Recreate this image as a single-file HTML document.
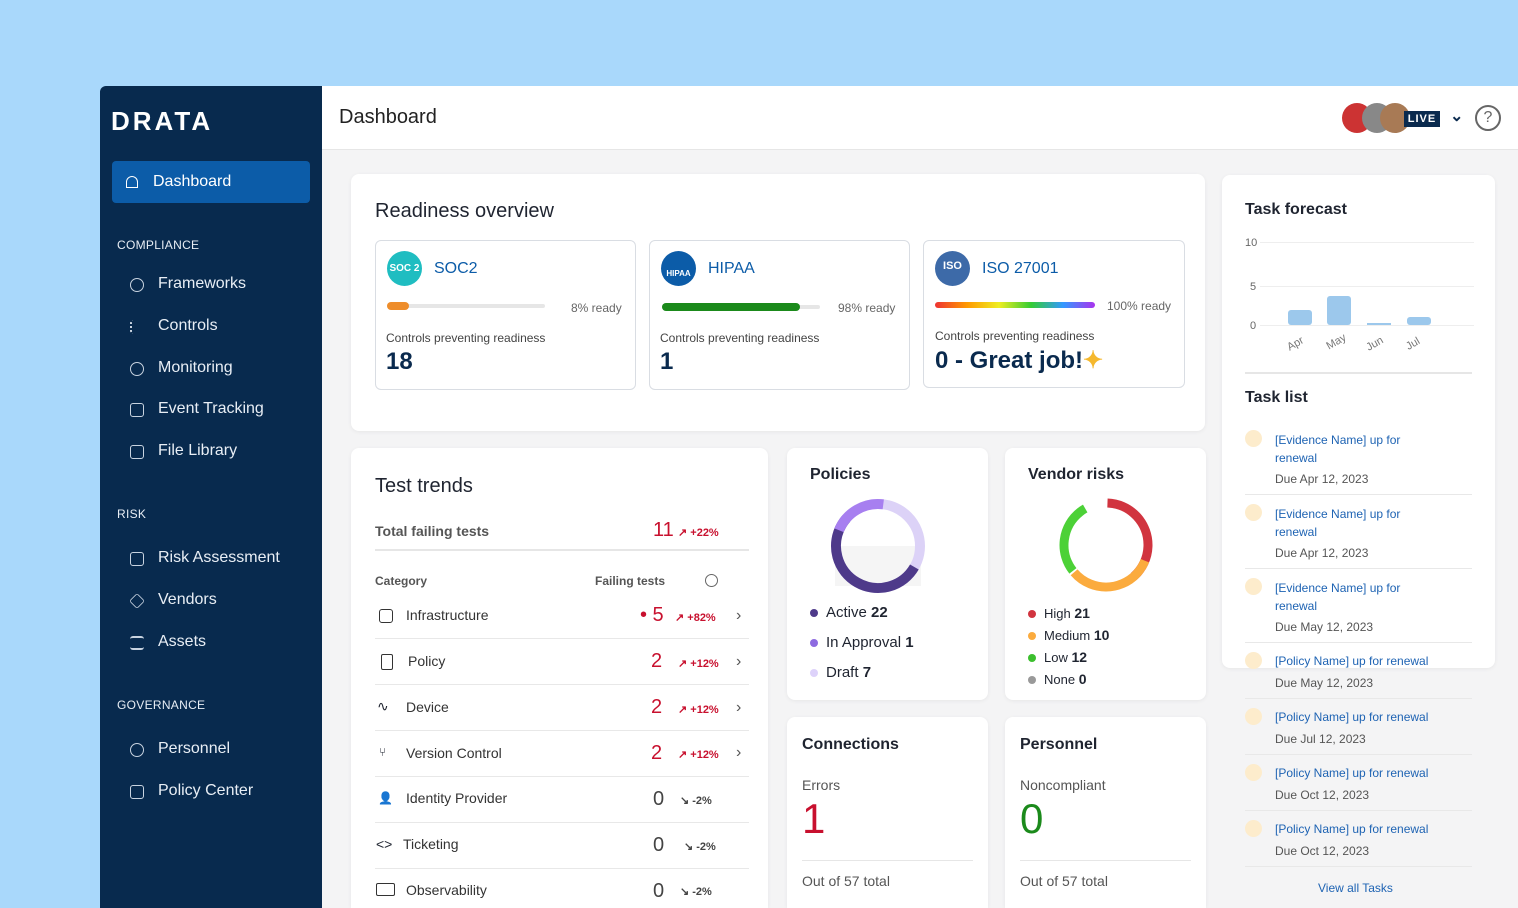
<!DOCTYPE html>
<html><head><meta charset="utf-8"><style>
*{box-sizing:border-box;margin:0;padding:0}
html,body{width:1518px;height:908px;overflow:hidden}
body{background:#a9d8fb;font-family:"Liberation Sans",sans-serif;position:relative;color:#1f2430}
.a{position:absolute}
.side{left:100px;top:86px;width:222px;height:822px;background:#082a4e;border-top-left-radius:6px}
.main{left:322px;top:86px;width:1196px;height:822px;background:#f4f4f5}
.hdr{left:322px;top:86px;width:1196px;height:64px;background:#fff;border-bottom:1px solid #e6e6e6}
.card{position:absolute;background:#fff;border-radius:8px;box-shadow:0 1px 4px rgba(0,0,0,.06)}
.nav{position:absolute;left:158px;color:#e8eef5;font-size:16px}
.ico{position:absolute;left:130px;width:14px;height:14px;border:1.5px solid #c8d3e0;border-radius:3px}
.sec{position:absolute;left:117px;color:#e8eef5;font-size:12px;letter-spacing:.3px}
.h{font-size:20px;color:#1f2430}
.sub{position:absolute;border:1px solid #d9dde3;border-radius:6px;background:#fff}
.row{position:absolute;left:375px;width:374px;height:46px;border-bottom:1px solid #e8e8e8;font-size:14px;color:#333}
.red{color:#c8102e}
.t{position:absolute;font-size:12px;color:#1e63b3}
.d{position:absolute;font-size:12px;color:#555}
</style></head><body>
<div class="a side"></div>
<div class="a main"></div>
<div class="a hdr"></div>
<div class="a" style="left:111px;top:106px;color:#fff;font-size:26px;letter-spacing:3px;font-weight:bold">DRATA</div>
<div class="a" style="left:112px;top:161px;width:198px;height:42px;background:#0c5ca8;border-radius:4px"></div>
<div class="a" style="left:126px;top:176px;width:12px;height:12px;border:1.5px solid #fff;border-top-left-radius:6px;border-top-right-radius:6px"></div>
<div class="nav" style="left:153px;top:173px;color:#fff;font-size:16px">Dashboard</div>
<div class="sec" style="top:238px">COMPLIANCE</div>
<div class="ico" style="top:278px;border-radius:50%"></div><div class="nav" style="top:275px">Frameworks</div>
<div class="ico" style="top:320px;border:none;border-left:2px dotted #c8d3e0"></div><div class="nav" style="top:317px">Controls</div>
<div class="ico" style="top:362px;border-radius:50%"></div><div class="nav" style="top:359px">Monitoring</div>
<div class="ico" style="top:403px"></div><div class="nav" style="top:400px">Event Tracking</div>
<div class="ico" style="top:445px"></div><div class="nav" style="top:442px">File Library</div>
<div class="sec" style="top:507px">RISK</div>
<div class="ico" style="top:552px"></div><div class="nav" style="top:549px">Risk Assessment</div>
<div class="ico" style="top:594px;transform:rotate(45deg) scale(.8)"></div><div class="nav" style="top:591px">Vendors</div>
<div class="ico" style="top:636px;border:none;border-top:2px solid #c8d3e0;border-bottom:2px solid #c8d3e0"></div><div class="nav" style="top:633px">Assets</div>
<div class="sec" style="top:698px">GOVERNANCE</div>
<div class="ico" style="top:743px;border-radius:50%"></div><div class="nav" style="top:740px">Personnel</div>
<div class="ico" style="top:785px"></div><div class="nav" style="top:782px">Policy Center</div>

<div class="a" style="left:339px;top:106px;font-size:20px;color:#222">Dashboard</div>
<div class="a" style="left:1342px;top:103px;width:30px;height:30px;border-radius:50%;background:#c33"></div>
<div class="a" style="left:1362px;top:103px;width:30px;height:30px;border-radius:50%;background:#888"></div>
<div class="a" style="left:1380px;top:103px;width:30px;height:30px;border-radius:50%;background:#a87a55"></div>
<div class="a" style="left:1404px;top:111px;width:36px;height:16px;background:#0a2a4e;color:#fff;font-size:11px;font-weight:bold;text-align:center;line-height:16px;letter-spacing:1px">LIVE</div>
<div class="a" style="left:1450px;top:106px;color:#0a2a4e;font-size:16px;font-weight:bold">⌄</div>
<div class="a" style="left:1475px;top:105px;width:26px;height:26px;border:2px solid #666;border-radius:50%;text-align:center;font-size:16px;line-height:22px;color:#666">?</div>

<div class="card" style="left:351px;top:174px;width:854px;height:257px"></div>
<div class="a h" style="left:375px;top:200px">Readiness overview</div>
<div class="sub" style="left:375px;top:240px;width:261px;height:150px"></div>
<div class="sub" style="left:649px;top:240px;width:261px;height:150px"></div>
<div class="sub" style="left:923px;top:240px;width:262px;height:148px"></div>
<div class="a" style="left:387px;top:251px;width:35px;height:35px;border-radius:50%;background:#1fbdc1;color:#fff;font-size:10px;text-align:center;line-height:35px;font-weight:bold">SOC 2</div>
<div class="a" style="left:434px;top:260px;font-size:16px;color:#0c5ca8">SOC2</div>
<div class="a" style="left:387px;top:304px;width:158px;height:4px;background:#e6e6e6;border-radius:2px"></div>
<div class="a" style="left:387px;top:302px;width:22px;height:8px;background:#ee8d2b;border-radius:4px"></div>
<div class="a" style="left:571px;top:301px;font-size:12px;color:#666">8% ready</div>
<div class="a" style="left:386px;top:331px;font-size:12px;color:#444">Controls preventing readiness</div>
<div class="a" style="left:386px;top:348px;font-size:24px;font-weight:bold;color:#0a2a4e">18</div>
<div class="a" style="left:661px;top:251px;width:35px;height:35px;border-radius:50%;background:#0c5ca8;color:#fff;font-size:8px;text-align:center;line-height:45px;font-weight:bold">HIPAA</div>
<div class="a" style="left:708px;top:260px;font-size:16px;color:#0c5ca8">HIPAA</div>
<div class="a" style="left:662px;top:305px;width:158px;height:4px;background:#e6e6e6;border-radius:2px"></div>
<div class="a" style="left:662px;top:303px;width:138px;height:8px;background:#1b8a1b;border-radius:4px"></div>
<div class="a" style="left:838px;top:301px;font-size:12px;color:#666">98% ready</div>
<div class="a" style="left:660px;top:331px;font-size:12px;color:#444">Controls preventing readiness</div>
<div class="a" style="left:660px;top:348px;font-size:24px;font-weight:bold;color:#0a2a4e">1</div>
<div class="a" style="left:935px;top:251px;width:35px;height:35px;border-radius:50%;background:#3d6aa8;color:#fff;font-size:11px;text-align:center;line-height:30px;font-weight:bold">ISO</div>
<div class="a" style="left:982px;top:260px;font-size:16px;color:#0c5ca8">ISO 27001</div>
<div class="a" style="left:935px;top:302px;width:160px;height:6px;border-radius:3px;background:linear-gradient(90deg,#e33,#f90,#ee2,#3c3,#39f,#a3e)"></div>
<div class="a" style="left:1107px;top:299px;font-size:12px;color:#666">100% ready</div>
<div class="a" style="left:935px;top:329px;font-size:12px;color:#444">Controls preventing readiness</div>
<div class="a" style="left:935px;top:346px;font-size:24px;font-weight:bold;color:#0a2a4e">0 - Great job!<span style="color:#f5b82e">✦</span></div>

<div class="card" style="left:351px;top:448px;width:417px;height:460px;border-bottom-left-radius:0;border-bottom-right-radius:0"></div>
<div class="a h" style="left:375px;top:475px">Test trends</div>
<div class="a" style="left:375px;top:523px;font-size:14px;color:#555;font-weight:bold">Total failing tests</div>
<div class="a red" style="left:653px;top:519px;font-size:20px">11</div>
<div class="a red" style="left:678px;top:526px;font-size:11px;font-weight:bold">↗ +22%</div>
<div class="a" style="left:375px;top:549px;width:374px;height:2px;background:#e6e6e6"></div>
<div class="a" style="left:375px;top:574px;font-size:12px;color:#555;font-weight:bold">Category</div>
<div class="a" style="left:595px;top:574px;font-size:12px;color:#555;font-weight:bold">Failing tests</div>
<div class="a" style="left:705px;top:574px;width:13px;height:13px;border:1.3px solid #666;border-radius:50%"></div>
<div class="row" style="top:593px"></div><div class="row" style="top:639px"></div><div class="row" style="top:685px"></div><div class="row" style="top:731px"></div><div class="row" style="top:777px"></div><div class="row" style="top:823px"></div>
<div class="a" style="left:406px;top:607px;font-size:14px;color:#333">Infrastructure</div>
<div class="a" style="left:408px;top:653px;font-size:14px;color:#333">Policy</div>
<div class="a" style="left:406px;top:699px;font-size:14px;color:#333">Device</div>
<div class="a" style="left:406px;top:745px;font-size:14px;color:#333">Version Control</div>
<div class="a" style="left:406px;top:790px;font-size:14px;color:#333">Identity Provider</div>
<div class="a" style="left:403px;top:836px;font-size:14px;color:#333">Ticketing</div>
<div class="a" style="left:406px;top:882px;font-size:14px;color:#333">Observability</div>
<div class="a" style="left:379px;top:609px;width:14px;height:14px;border:1.5px solid #333;border-radius:3px"></div>
<div class="a" style="left:381px;top:654px;width:12px;height:16px;border:1.5px solid #333;border-radius:2px"></div>
<div class="a" style="left:377px;top:698px;font-size:14px">∿</div>
<div class="a" style="left:379px;top:745px;font-size:12px">⑂</div>
<div class="a" style="left:378px;top:791px;font-size:12px;color:#333">👤</div>
<div class="a" style="left:376px;top:836px;font-size:14px">&lt;&gt;</div>
<div class="a" style="left:376px;top:883px;width:19px;height:13px;border:1.5px solid #333;border-radius:2px"></div>
<div class="a red" style="left:640px;top:604px;font-size:20px">• 5</div>
<div class="a red" style="left:651px;top:650px;font-size:20px">2</div>
<div class="a red" style="left:651px;top:696px;font-size:20px">2</div>
<div class="a red" style="left:651px;top:742px;font-size:20px">2</div>
<div class="a" style="left:653px;top:788px;font-size:20px;color:#444">0</div>
<div class="a" style="left:653px;top:834px;font-size:20px;color:#444">0</div>
<div class="a" style="left:653px;top:880px;font-size:20px;color:#444">0</div>
<div class="a red" style="left:675px;top:611px;font-size:11px;font-weight:bold">↗ +82%</div>
<div class="a red" style="left:678px;top:657px;font-size:11px;font-weight:bold">↗ +12%</div>
<div class="a red" style="left:678px;top:703px;font-size:11px;font-weight:bold">↗ +12%</div>
<div class="a red" style="left:678px;top:748px;font-size:11px;font-weight:bold">↗ +12%</div>
<div class="a" style="left:680px;top:794px;font-size:11px;font-weight:bold;color:#444">↘ -2%</div>
<div class="a" style="left:684px;top:840px;font-size:11px;font-weight:bold;color:#444">↘ -2%</div>
<div class="a" style="left:680px;top:885px;font-size:11px;font-weight:bold;color:#444">↘ -2%</div>
<div class="a" style="left:736px;top:607px;color:#555">›</div><div class="a" style="left:736px;top:653px;color:#555">›</div><div class="a" style="left:736px;top:699px;color:#555">›</div><div class="a" style="left:736px;top:744px;color:#555">›</div>

<div class="card" style="left:787px;top:448px;width:201px;height:252px"></div>
<div class="a" style="left:810px;top:466px;font-size:16px;font-weight:bold">Policies</div>
<svg class="a" style="left:825px;top:493px" width="106" height="106" viewBox="0 0 106 106">
<rect x="10" y="53" width="86" height="40" fill="#f5f5f5"/>
<circle cx="53" cy="53" r="42" fill="none" stroke="#dcd2f7" stroke-width="10"/>
<circle cx="53" cy="53" r="42" fill="none" stroke="#4e3a8a" stroke-width="10" stroke-dasharray="140 264" transform="rotate(30 53 53)"/>
<circle cx="53" cy="53" r="42" fill="none" stroke="#a77ff0" stroke-width="10" stroke-dasharray="55 264" transform="rotate(-158 53 53)"/>
</svg>
<div class="a" style="left:810px;top:609px;width:8px;height:8px;border-radius:50%;background:#4e3a8a"></div><div class="a" style="left:826px;top:604px;font-size:15px">Active <b>22</b></div>
<div class="a" style="left:810px;top:639px;width:8px;height:8px;border-radius:50%;background:#8d6ae0"></div><div class="a" style="left:826px;top:634px;font-size:15px">In Approval <b>1</b></div>
<div class="a" style="left:810px;top:669px;width:8px;height:8px;border-radius:50%;background:#ddd2fa"></div><div class="a" style="left:826px;top:664px;font-size:15px">Draft <b>7</b></div>

<div class="card" style="left:1005px;top:448px;width:201px;height:252px"></div>
<div class="a" style="left:1028px;top:466px;font-size:16px;font-weight:bold">Vendor risks</div>
<svg class="a" style="left:1058px;top:497px" width="96" height="96" viewBox="0 0 96 96">
<circle cx="48" cy="48" r="42" fill="none" stroke="#d1343f" stroke-width="9" stroke-dasharray="100 264" transform="rotate(-88 48 48)"/>
<circle cx="48" cy="48" r="42" fill="none" stroke="#fbab3e" stroke-width="9" stroke-dasharray="86 264" transform="rotate(22 48 48)"/>
<circle cx="48" cy="48" r="42" fill="none" stroke="#4cd137" stroke-width="9" stroke-dasharray="72 264" transform="rotate(142 48 48)"/>
</svg>
<div class="a" style="left:1028px;top:610px;width:8px;height:8px;border-radius:50%;background:#d1343f"></div><div class="a" style="left:1044px;top:605px;font-size:13px">High <b style="font-size:14px">21</b></div>
<div class="a" style="left:1028px;top:632px;width:8px;height:8px;border-radius:50%;background:#fbab3e"></div><div class="a" style="left:1044px;top:627px;font-size:13px">Medium <b style="font-size:14px">10</b></div>
<div class="a" style="left:1028px;top:654px;width:8px;height:8px;border-radius:50%;background:#3cbf2e"></div><div class="a" style="left:1044px;top:649px;font-size:13px">Low <b style="font-size:14px">12</b></div>
<div class="a" style="left:1028px;top:676px;width:8px;height:8px;border-radius:50%;background:#999"></div><div class="a" style="left:1044px;top:671px;font-size:13px">None <b style="font-size:14px">0</b></div>

<div class="card" style="left:787px;top:717px;width:201px;height:191px;border-bottom-left-radius:0;border-bottom-right-radius:0"></div>
<div class="a" style="left:802px;top:736px;font-size:16px;font-weight:bold">Connections</div>
<div class="a" style="left:802px;top:777px;font-size:14px;color:#555">Errors</div>
<div class="a red" style="left:802px;top:795px;font-size:42px">1</div>
<div class="a" style="left:802px;top:860px;width:171px;height:1px;background:#e6e6e6"></div>
<div class="a" style="left:802px;top:873px;font-size:14px;color:#555">Out of 57 total</div>
<div class="card" style="left:1005px;top:717px;width:201px;height:191px;border-bottom-left-radius:0;border-bottom-right-radius:0"></div>
<div class="a" style="left:1020px;top:736px;font-size:16px;font-weight:bold">Personnel</div>
<div class="a" style="left:1020px;top:777px;font-size:14px;color:#555">Noncompliant</div>
<div class="a" style="left:1020px;top:795px;font-size:42px;color:#1b8a1b">0</div>
<div class="a" style="left:1020px;top:860px;width:171px;height:1px;background:#e6e6e6"></div>
<div class="a" style="left:1020px;top:873px;font-size:14px;color:#555">Out of 57 total</div>

<div class="card" style="left:1222px;top:175px;width:273px;height:493px"></div>
<div class="a" style="left:1245px;top:201px;font-size:16px;font-weight:bold">Task forecast</div>
<div class="a" style="left:1245px;top:237px;font-size:11px;color:#666">10</div>
<div class="a" style="left:1250px;top:281px;font-size:11px;color:#666">5</div>
<div class="a" style="left:1250px;top:320px;font-size:11px;color:#666">0</div>
<div class="a" style="left:1260px;top:242px;width:214px;height:1px;background:#eee"></div>
<div class="a" style="left:1260px;top:286px;width:214px;height:1px;background:#eee"></div>
<div class="a" style="left:1260px;top:325px;width:214px;height:1px;background:#eee"></div>
<div class="a" style="left:1288px;top:310px;width:24px;height:15px;background:#9cc8ec;border-radius:3px"></div>
<div class="a" style="left:1327px;top:296px;width:24px;height:29px;background:#9cc8ec;border-radius:3px"></div>
<div class="a" style="left:1367px;top:323px;width:24px;height:2px;background:#9cc8ec"></div>
<div class="a" style="left:1407px;top:317px;width:24px;height:8px;background:#9cc8ec;border-radius:3px"></div>
<div class="a" style="left:1287px;top:338px;font-size:11px;color:#777;transform:rotate(-30deg)">Apr</div>
<div class="a" style="left:1326px;top:336px;font-size:11px;color:#777;transform:rotate(-30deg)">May</div>
<div class="a" style="left:1366px;top:338px;font-size:11px;color:#777;transform:rotate(-30deg)">Jun</div>
<div class="a" style="left:1406px;top:338px;font-size:11px;color:#777;transform:rotate(-30deg)">Jul</div>
<div class="a" style="left:1245px;top:372px;width:227px;height:2px;background:#e6e6e6"></div>
<div class="a" style="left:1245px;top:389px;font-size:16px;font-weight:bold">Task list</div>

<div class="a" style="left:1245px;top:430px;width:17px;height:17px;border-radius:50%;background:#fdeccc"></div>
<div class="t" style="left:1275px;top:431px;line-height:18px">[Evidence Name] up for<br>renewal</div><div class="d" style="left:1275px;top:472px">Due Apr 12, 2023</div>
<div class="a" style="left:1245px;top:494px;width:227px;height:1px;background:#e8e8e8"></div>
<div class="a" style="left:1245px;top:504px;width:17px;height:17px;border-radius:50%;background:#fdeccc"></div>
<div class="t" style="left:1275px;top:505px;line-height:18px">[Evidence Name] up for<br>renewal</div><div class="d" style="left:1275px;top:546px">Due Apr 12, 2023</div>
<div class="a" style="left:1245px;top:568px;width:227px;height:1px;background:#e8e8e8"></div>
<div class="a" style="left:1245px;top:578px;width:17px;height:17px;border-radius:50%;background:#fdeccc"></div>
<div class="t" style="left:1275px;top:579px;line-height:18px">[Evidence Name] up for<br>renewal</div><div class="d" style="left:1275px;top:620px">Due May 12, 2023</div>
<div class="a" style="left:1245px;top:642px;width:227px;height:1px;background:#e8e8e8"></div>
<div class="a" style="left:1245px;top:652px;width:17px;height:17px;border-radius:50%;background:#fdeccc"></div>
<div class="t" style="left:1275px;top:654px">[Policy Name] up for renewal</div><div class="d" style="left:1275px;top:676px">Due May 12, 2023</div>
<div class="a" style="left:1245px;top:698px;width:227px;height:1px;background:#e8e8e8"></div>
<div class="a" style="left:1245px;top:708px;width:17px;height:17px;border-radius:50%;background:#fdeccc"></div>
<div class="t" style="left:1275px;top:710px">[Policy Name] up for renewal</div><div class="d" style="left:1275px;top:732px">Due Jul 12, 2023</div>
<div class="a" style="left:1245px;top:754px;width:227px;height:1px;background:#e8e8e8"></div>
<div class="a" style="left:1245px;top:764px;width:17px;height:17px;border-radius:50%;background:#fdeccc"></div>
<div class="t" style="left:1275px;top:766px">[Policy Name] up for renewal</div><div class="d" style="left:1275px;top:788px">Due Oct 12, 2023</div>
<div class="a" style="left:1245px;top:810px;width:227px;height:1px;background:#e8e8e8"></div>
<div class="a" style="left:1245px;top:820px;width:17px;height:17px;border-radius:50%;background:#fdeccc"></div>
<div class="t" style="left:1275px;top:822px">[Policy Name] up for renewal</div><div class="d" style="left:1275px;top:844px">Due Oct 12, 2023</div>
<div class="a" style="left:1245px;top:866px;width:227px;height:1px;background:#e8e8e8"></div>
<div class="t" style="left:1318px;top:881px">View all Tasks</div>
</body></html>
